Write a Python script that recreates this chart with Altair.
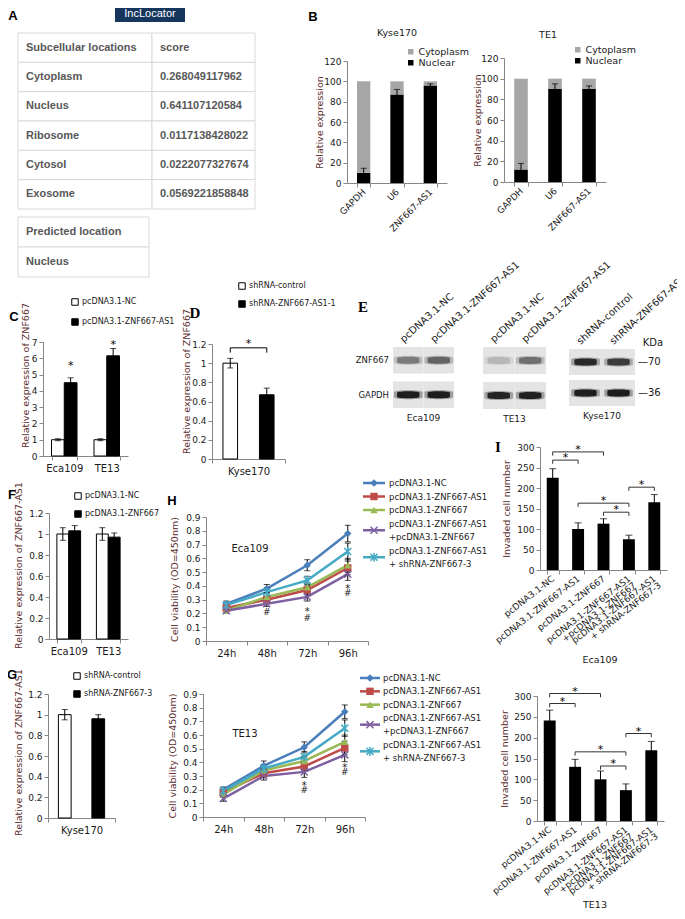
import altair as alt
import pandas as pd

OFF = 8
W, H = 685 - 2 * OFF, 919 - 2 * OFF


def p(v):
    return v - OFF


FONT = "DejaVu Sans"
TBL = "Liberation Sans"
SERIF = "Liberation Serif"
AXC = "#868686"
TCOL = "#5c2e2e"
TXT = "#1a1a1a"
ONE = pd.DataFrame({"k": [0]})

# ======================= data =======================
# A
loc_names = ["Subcellular locations", "Cytoplasm", "Nucleus", "Ribosome", "Cytosol", "Exosome"]
loc_scores = ["score", "0.268049117962", "0.641107120584", "0.0117138428022",
              "0.0222077327674", "0.0569221858848"]
pred_rows = ["Predicted location", "Nucleus"]
# B
b_genes = ["GAPDH", "U6", "ZNF667-AS1"]
b_parts = ["Cytoplasm", "Nuclear"]
kyse_nuc = [10, 87, 96]
kyse_cyto = [90, 13, 4]
kyse_err = [4.5, 5, 1.5]
te1_nuc = [12, 90, 90]
te1_cyto = [88, 10, 10]
te1_err = [6, 5, 3]
# C
c_groups = ["Eca109", "TE13"]
c_series = ["pcDNA3.1-NC", "pcDNA3.1-ZNF667-AS1"]
c_vals = [[1.0, 1.0], [4.5, 6.15]]
c_errs = [[0.06, 0.06], [0.3, 0.45]]
c_stars = [5.7, 7.0]
# D
d_groups = ["Kyse170"]
d_series = ["shRNA-control", "shRNA-ZNF667-AS1-1"]
d_vals = [[1.0], [0.67]]
d_errs = [[0.05], [0.07]]
d_bracket = [1.11, 1.16]
d_star = 1.23
# E
e_rows = ["ZNF667", "GAPDH"]
e_blocks = ["Eca109", "TE13", "Kyse170"]
e_lanes = {
    "Eca109": ["pcDNA3.1-NC", "pcDNA3.1-ZNF667-AS1"],
    "TE13": ["pcDNA3.1-NC", "pcDNA3.1-ZNF667-AS1"],
    "Kyse170": ["shRNA-control", "shRNA-ZNF667-AS1-1"],
}
e_intensity = {
    "Eca109": {"ZNF667": [0.45, 0.55], "GAPDH": [0.92, 0.92]},
    "TE13": {"ZNF667": [0.18, 0.5], "GAPDH": [0.88, 0.9]},
    "Kyse170": {"ZNF667": [0.85, 0.75], "GAPDH": [0.92, 0.92]},
}
e_kda = ["—70", "—36"]
# F
f_groups = ["Eca109", "TE13"]
f_series = ["pcDNA3.1-NC", "pcDNA3.1-ZNF667"]
f_vals = [[1.0, 1.0], [1.03, 0.97]]
f_errs = [[0.06, 0.06], [0.05, 0.04]]
# G
g_groups = ["Kyse170"]
g_series = ["shRNA-control", "shRNA-ZNF667-3"]
g_vals = [[1.0], [0.96]]
g_errs = [[0.05], [0.04]]
# H
times = ["24h", "48h", "72h", "96h"]
h_series = ["pcDNA3.1-NC", "pcDNA3.1-ZNF667-AS1", "pcDNA3.1-ZNF667",
            "pcDNA3.1-ZNF667-AS1\n+pcDNA3.1-ZNF667", "pcDNA3.1-ZNF667-AS1\n+ shRNA-ZNF667-3"]
h_colors = ["#4a7ebb", "#be4b48", "#98b954", "#7d60a0", "#46aac5"]
h_shapes = ["diamond", "square", "triangle-up", "M-1,-1L1,1M-1,1L1,-1",
            "M-1,-1L1,1M-1,1L1,-1M0,-1.3L0,1.3"]
h1_vals = [[0.27, 0.38, 0.55, 0.78],
           [0.24, 0.30, 0.37, 0.53],
           [0.22, 0.32, 0.39, 0.55],
           [0.22, 0.27, 0.32, 0.485],
           [0.26, 0.355, 0.44, 0.65]]
h1_errs = [[0.02, 0.03, 0.04, 0.06],
           [0.02, 0.02, 0.03, 0.05],
           [0.02, 0.03, 0.03, 0.05],
           [0.02, 0.02, 0.03, 0.045],
           [0.02, 0.03, 0.03, 0.06]]
h2_vals = [[0.20, 0.375, 0.51, 0.77],
           [0.18, 0.32, 0.37, 0.505],
           [0.165, 0.34, 0.41, 0.55],
           [0.135, 0.30, 0.33, 0.455],
           [0.19, 0.355, 0.44, 0.65]]
h2_errs = [[0.02, 0.035, 0.04, 0.05],
           [0.02, 0.03, 0.03, 0.05],
           [0.02, 0.03, 0.03, 0.05],
           [0.02, 0.03, 0.04, 0.05],
           [0.02, 0.03, 0.04, 0.06]]
h1_marks = [("48h", "#", 0.21), ("72h", "*", 0.235), ("72h", "#", 0.17),
            ("96h", "*", 0.40), ("96h", "#", 0.345)]
h2_marks = [("72h", "*", 0.25), ("72h", "#", 0.195), ("96h", "*", 0.38), ("96h", "#", 0.33)]
# I
i_cats = ["pcDNA3.1-NC", "pcDNA3.1-ZNF667-AS1", "pcDNA3.1-ZNF667",
          "pcDNA3.1-ZNF667-AS1\n+pcDNA3.1-ZNF667", "pcDNA3.1-ZNF667-AS1\n+ shRNA-ZNF667-3"]
i1_vals = [225, 100, 113, 75, 165]
i1_errs = [22, 15, 12, 10, 19]
i1_brackets = [(0, 2, 288), (0, 1, 268), (1, 3, 163), (2, 3, 141), (3, 4, 202)]
i2_vals = [241, 130, 100, 74, 170]
i2_errs = [25, 18, 20, 15, 21]
i2_brackets = [(0, 2, 306), (0, 1, 282), (1, 3, 166), (2, 3, 132), (3, 4, 210)]


# ======================= helpers =======================
def text_at(txt, x, y, size=9.5, font=FONT, weight="normal", color=TXT, align="center",
            baseline="middle"):
    return alt.Chart(ONE).mark_text(text=txt, font=font, fontSize=size, fontWeight=weight,
                                    color=color, align=align, baseline=baseline).encode(
        x=alt.value(p(x)), y=alt.value(p(y)))


def yax(ax_x, values, title=None, title_c=None, title_y=None, fmt="~g"):
    kw = dict(orient="left", offset=-p(ax_x), values=values, format=fmt, grid=False,
              domainColor=AXC, tickColor=AXC, tickSize=4, labelFont=FONT, labelFontSize=9,
              labelColor=TXT, labelPadding=2, labelOverlap=False)
    if title is None:
        kw["title"] = None
    else:
        kw.update(title=title, titleX=title_c - ax_x, titleAngle=270, titleBaseline="middle",
                  titleFont=FONT, titleFontSize=9.5, titleFontWeight="normal", titleColor=TCOL)
        if title_y is not None:
            kw["titleY"] = p(title_y)
    return alt.Axis(**kw)


def xax(y_bot, angle=0, size=10, multiline=False):
    kw = dict(orient="bottom", offset=p(y_bot) - H, grid=False, domainColor=AXC, tickColor=AXC,
              tickSize=4, tickBand="extent", labelFont=FONT, labelFontSize=size, labelColor=TXT,
              labelPadding=3, labelAngle=angle, labelOverlap=False, title=None)
    if angle:
        kw.update(labelAlign="right", labelBaseline="middle")
    if multiline:
        kw.update(labelExpr="split(datum.label, '\\n')", labelLineHeight=8.5)
    return alt.Axis(**kw)


def leg(x, y, rowpad, stroke=True, size=42, fsize=8):
    kw = dict(orient="none", legendX=p(x), legendY=p(y), title=None, symbolType="square",
              symbolSize=size, labelFont=FONT, labelFontSize=fsize, labelColor=TXT,
              labelOffset=3, rowPadding=rowpad, padding=0, labelLimit=300)
    if stroke:
        kw.update(symbolStrokeColor="black", symbolStrokeWidth=1)
    else:
        kw.update(symbolStrokeWidth=0)
    return alt.Legend(**kw)


def errbars(df, x_enc, ys, cap, xoff=None, width=1):
    # secondary layers carry no "axis" key so the main layer's axis stays enabled
    base = alt.Chart(df).transform_calculate(lo="datum.v - datum.e", hi="datum.v + datum.e")
    enc = {"x": x_enc}
    if xoff is not None:
        enc["xOffset"] = xoff
    rule = base.mark_rule(color="black", strokeWidth=width).encode(
        y=alt.Y("lo:Q", scale=ys), y2="hi:Q", **enc)
    lo = base.mark_tick(color="black", thickness=width, size=cap).encode(
        y=alt.Y("lo:Q", scale=ys), **enc)
    hi = base.mark_tick(color="black", thickness=width, size=cap).encode(
        y=alt.Y("hi:Q", scale=ys), **enc)
    return [rule, lo, hi]


# ======================= panels =======================
def table(names, col_edges, row_top, row_bot, extra_col=None):
    n = len(names)
    cols = [0] * n
    texts = list(names)
    rows = list(range(n))
    if extra_col is not None:
        cols += [1] * n
        texts += extra_col
        rows += list(range(n))
    t = pd.DataFrame({"r": rows, "c": cols, "t": texts})
    ncol = len(col_edges) - 1
    xs = alt.Scale(domain=list(range(ncol + 1)), range=[p(v) for v in col_edges],
                   zero=False, nice=False)
    ys = alt.Scale(domain=[0, n], range=[p(row_top), p(row_bot)], zero=False, nice=False)
    base = alt.Chart(t).transform_calculate(c2="datum.c + 1", r2="datum.r + 1",
                                            rm="datum.r + 0.5")
    cells = base.mark_rect(fill="white", stroke="#d9d9d9", strokeWidth=1).encode(
        x=alt.X("c:Q", scale=xs, axis=None), x2="c2:Q",
        y=alt.Y("r:Q", scale=ys, axis=None), y2="r2:Q")
    txt = base.mark_text(align="left", dx=8, font=TBL, fontSize=11, fontWeight="bold",
                         color="#585858").encode(
        x=alt.X("c:Q", scale=xs, axis=None), y=alt.Y("rm:Q", scale=ys, axis=None), text="t:N")
    return alt.layer(cells, txt)


def panel_a():
    out = [table(loc_names, [18, 152, 255], 33, 209, loc_scores),
           table(pred_rows, [18, 149], 217, 277)]
    box = alt.Chart(ONE).mark_rect(color="#17365d").encode(
        x=alt.value(p(115)), x2=alt.value(p(185)), y=alt.value(p(4)), y2=alt.value(p(22)))
    out.append(box)
    out.append(text_at("IncLocator", 150, 13.5, size=11, font=TBL, color="white"))
    return out


def panel_b(title, nuc, cyto, err, ax_x, x_end, y_bot, y_top, title_c, head_xy, leg_xy):
    n = len(b_genes)
    df = pd.DataFrame({"gene": b_genes * 2, "part": ["Nuclear"] * n + ["Cytoplasm"] * n,
                       "v": nuc + cyto, "o": [0] * n + [1] * n})
    xs = alt.Scale(type="band", domain=b_genes, range=[p(ax_x), p(x_end)],
                   paddingInner=0.6, paddingOuter=0.3)
    ys = alt.Scale(domain=[0, 120], range=[p(y_bot), p(y_top)], nice=False, zero=True)
    bars = alt.Chart(df).mark_bar().encode(
        x=alt.X("gene:N", scale=xs, axis=xax(y_bot, angle=315, size=9)),
        y=alt.Y("v:Q", stack="zero", scale=ys,
                axis=yax(ax_x, list(range(0, 121, 20)), "Relative expression", title_c,
                         fmt="d")),
        color=alt.Color("part:N", scale=alt.Scale(domain=b_parts, range=["#a6a6a6", "#000000"]),
                        legend=leg(leg_xy[0], leg_xy[1], 0, stroke=False, size=30, fsize=9.5)),
        order=alt.Order("o:Q"),
    )
    e = pd.DataFrame({"gene": b_genes, "v": nuc, "e": err})
    errs = errbars(e, alt.X("gene:N", scale=xs), ys, cap=6)
    return [alt.layer(bars, *errs), text_at(title, head_xy[0], head_xy[1], size=9.5)]


def grouped(groups, series, vals, errs, ax_x, x_end, y_bot, y_top, ymax, yvals, fmt, title,
            title_c, title_y, leg_xy, rowpad, pin, pout, opin, opout):
    rows = []
    for si, s in enumerate(series):
        for gi, g in enumerate(groups):
            rows.append({"g": g, "s": s, "v": vals[si][gi], "e": errs[si][gi]})
    df = pd.DataFrame(rows)
    xs = alt.Scale(type="band", domain=groups, range=[p(ax_x), p(x_end)],
                   paddingInner=pin, paddingOuter=pout)
    os_ = alt.Scale(domain=series, paddingInner=opin, paddingOuter=opout)
    ys = alt.Scale(domain=[0, ymax], range=[p(y_bot), p(y_top)], nice=False, zero=True)
    X = alt.X("g:N", scale=xs)
    XO = alt.XOffset("s:N", scale=os_)
    bars = alt.Chart(df).mark_bar(stroke="black", strokeWidth=1).encode(
        x=alt.X("g:N", scale=xs, axis=xax(y_bot, size=10)),
        xOffset=XO,
        y=alt.Y("v:Q", scale=ys, axis=yax(ax_x, yvals, title, title_c, title_y, fmt=fmt)),
        color=alt.Color("s:N", scale=alt.Scale(domain=series, range=["white", "black"]),
                        legend=leg(leg_xy[0], leg_xy[1], rowpad)),
    )
    return [bars] + errbars(df, X, ys, cap=6, xoff=XO), X, XO, ys


def panel_c():
    layers, X, XO, ys = grouped(c_groups, c_series, c_vals, c_errs, 43, 128, 456, 342, 7,
                                list(range(0, 8)), "d", "Relative expression of ZNF667", 25.5,
                                375, (71, 298), 8, 0.4, 0.2, 0, 0)
    st = pd.DataFrame({"g": c_groups, "s": [c_series[1]] * 2, "y": c_stars})
    stars = alt.Chart(st).mark_text(text="*", fontSize=11, font=FONT, dy=3).encode(
        x=X, xOffset=XO, y=alt.Y("y:Q", scale=ys))
    return [alt.layer(*layers, stars)]


yv12 = [0, 0.2, 0.4, 0.6, 0.8, 1, 1.2]


def panel_d():
    layers, X, XO, ys = grouped(d_groups, d_series, d_vals, d_errs, 212, 285, 459, 344, 1.2,
                                yv12, "~g", "Relative expression of ZNF667", 186.5, 381,
                                (238, 282), 6, 0, 0, 0.6, 0.3)
    br = pd.DataFrame({"g": d_groups * 4,
                       "s": [d_series[0], d_series[0], d_series[1], d_series[1]],
                       "y": [d_bracket[0], d_bracket[1], d_bracket[1], d_bracket[0]],
                       "i": [0, 1, 2, 3]})
    line = alt.Chart(br).mark_line(color="black", strokeWidth=1).encode(
        x=X, xOffset=XO, y=alt.Y("y:Q", scale=ys), order="i:Q")
    st = pd.DataFrame({"g": d_groups, "y": [d_star]})
    star = alt.Chart(st).mark_text(text="*", fontSize=11, font=FONT, dy=3).encode(
        x=X, y=alt.Y("y:Q", scale=ys))
    return [alt.layer(*layers, line, star)]


def panel_f():
    layers, X, XO, ys = grouped(f_groups, f_series, f_vals, f_errs, 49, 128, 639, 513, 1.2,
                                yv12, "~g", "Relative expression of ZNF667-AS1", 18.5, 565,
                                (74, 492), 6, 0.4, 0.2, 0, 0)
    return [alt.layer(*layers)]


def panel_g():
    layers, X, XO, ys = grouped(g_groups, g_series, g_vals, g_errs, 48, 115, 818, 694, 1.2,
                                yv12, "~g", "Relative expression of ZNF667-AS1", 18.5, 752,
                                (73, 672), 6, 0, 0, 0.62, 0.31)
    return [alt.layer(*layers)]


BAND = "M-1,-0.18C-1,-0.36,1,-0.36,1,-0.18L1,0.18C1,0.36,-1,0.36,-1,0.18Z"


def blot(block, x0, x1, y0, y1, pin):
    lanes = e_lanes[block]
    xs = alt.Scale(type="band", domain=lanes, range=[p(x0), p(x1)], paddingInner=0,
                   paddingOuter=0)
    ys = alt.Scale(type="band", domain=e_rows, range=[p(y0), p(y1)], paddingInner=pin,
                   paddingOuter=0)
    rows = []
    for r in e_rows:
        for li, ln in enumerate(lanes):
            rows.append({"lane": ln, "row": r, "int": e_intensity[block][r][li]})
    df = pd.DataFrame(rows)
    X = alt.X("lane:N", scale=xs, axis=None)
    Y = alt.Y("row:N", scale=ys, axis=None)
    gray = alt.Scale(domain=[0, 1], range=["#e2e2e2", "#0d0d0d"])
    box = alt.Chart(df).mark_rect(color="#e4e4e4").encode(x=X, y=Y)
    halo = alt.Chart(df).mark_point(shape=BAND, filled=True, size=820, opacity=0.35).encode(
        x=X, y=Y, color=alt.Color("int:Q", scale=gray, legend=None))
    core = alt.Chart(df).mark_point(shape=BAND, filled=True, size=500, opacity=1).encode(
        x=X, y=Y, color=alt.Color("int:Q", scale=gray, legend=None))
    ld = pd.DataFrame({"lane": lanes})
    lane_lab = alt.Chart(ld).mark_text(angle=318, align="left", baseline="alphabetic",
                                       font=FONT, fontSize=10, color=TXT).encode(
        x=alt.X("lane:N", scale=xs, axis=None, bandPosition=0.35), y=alt.value(p(y0 - 4)),
        text="lane:N")
    bd = pd.DataFrame({"lane": [lanes[0]], "row": [e_rows[-1]], "b": [block]})
    blab = alt.Chart(bd).mark_text(font=FONT, fontSize=9, color=TXT, dy=10).encode(
        x=alt.X("lane:N", scale=xs, axis=None, bandPosition=1),
        y=alt.Y("row:N", scale=ys, axis=None, bandPosition=1), text="b:N")
    layers = [box, halo, core, lane_lab, blab]
    if block == e_blocks[0]:
        rd = pd.DataFrame({"lane": [lanes[0]] * 2, "row": e_rows})
        layers.append(alt.Chart(rd).mark_text(align="right", dx=-4, font=FONT, fontSize=8.5,
                                              color=TXT).encode(
            x=alt.X("lane:N", scale=xs, axis=None, bandPosition=0), y=Y, text="row:N"))
    if block == e_blocks[-1]:
        kd = pd.DataFrame({"lane": [lanes[1]] * 2, "row": e_rows, "t": e_kda})
        layers.append(alt.Chart(kd).mark_text(align="left", dx=3, font=FONT, fontSize=10,
                                              color=TXT).encode(
            x=alt.X("lane:N", scale=xs, axis=None, bandPosition=1), y=Y, text="t:N"))
    return [alt.layer(*layers)]


def panel_h(vals, errs, marks, ax_x, x_end, y_bot, y_top, title_c, lab, lab_xy):
    rows = []
    for si, s in enumerate(h_series):
        for ti, t in enumerate(times):
            rows.append({"t": t, "s": s, "v": vals[si][ti], "e": errs[si][ti]})
    df = pd.DataFrame(rows)
    xs = alt.Scale(type="band", domain=times, range=[p(ax_x), p(x_end)], paddingInner=0,
                   paddingOuter=0)
    ys = alt.Scale(domain=[0, 0.9], range=[p(y_bot), p(y_top)], nice=False, zero=True)
    cs = alt.Scale(domain=h_series, range=h_colors)
    ss = alt.Scale(domain=h_series, range=h_shapes)
    X = alt.X("t:N", scale=xs)
    Y = alt.Y("v:Q", scale=ys)
    lines = alt.Chart(df).mark_line(strokeWidth=2.5).encode(
        x=alt.X("t:N", scale=xs, axis=xax(y_bot, size=10)),
        y=alt.Y("v:Q", scale=ys, axis=yax(ax_x, [round(0.1 * k, 1) for k in range(10)],
                                          "Cell viability (OD=450nm)", title_c)),
        color=alt.Color("s:N", scale=cs, legend=None))
    eb = errbars(df, X, ys, cap=6)
    filled = alt.Chart(df).transform_filter(
        alt.FieldOneOfPredicate(field="s", oneOf=h_series[:3])).mark_point(
        filled=True, size=55, opacity=1).encode(
        x=X, y=Y, color=alt.Color("s:N", scale=cs, legend=None),
        shape=alt.Shape("s:N", scale=ss, legend=None))
    opened = alt.Chart(df).transform_filter(
        alt.FieldOneOfPredicate(field="s", oneOf=h_series[3:])).mark_point(
        filled=False, size=50, strokeWidth=1.5, opacity=1).encode(
        x=X, y=Y, color=alt.Color("s:N", scale=cs, legend=None),
        shape=alt.Shape("s:N", scale=ss, legend=None))
    md = pd.DataFrame(marks, columns=["t", "m", "y"])
    star = alt.Chart(md).transform_filter("datum.m == '*'").mark_text(
        fontSize=10, font=FONT, dy=3, color=TXT).encode(
        x=X, y=alt.Y("y:Q", scale=ys), text="m:N")
    hsh = alt.Chart(md).transform_filter("datum.m == '#'").mark_text(
        fontSize=9, font=FONT, color=TXT).encode(
        x=X, y=alt.Y("y:Q", scale=ys), text="m:N")
    return [alt.layer(lines, *eb, filled, opened, star, hsh),
            text_at(lab, lab_xy[0], lab_xy[1], size=10)]


def h_legend(x0, x1, y_first, y_last, tdx):
    ent, txt = [], []
    line = 0
    for s in h_series:
        parts = s.split("\n")
        ent.append({"s": s, "mid": line + (len(parts) - 1) / 2, "x0": 0, "x1": 1, "xm": 0.5})
        for k, part in enumerate(parts):
            txt.append({"s": s, "line": line + k, "label": part, "x1": 1})
        line += len(parts)
    ed = pd.DataFrame(ent)
    td = pd.DataFrame(txt)
    xs = alt.Scale(domain=[0, 1], range=[p(x0), p(x1)], zero=False, nice=False)
    ys = alt.Scale(domain=[0, line - 1], range=[p(y_first), p(y_last)], zero=False, nice=False)
    cs = alt.Scale(domain=h_series, range=h_colors)
    ss = alt.Scale(domain=h_series, range=h_shapes)
    rule = alt.Chart(ed).mark_rule(strokeWidth=2.5).encode(
        x=alt.X("x0:Q", scale=xs, axis=None), x2="x1:Q",
        y=alt.Y("mid:Q", scale=ys, axis=None), color=alt.Color("s:N", scale=cs, legend=None))
    filled = alt.Chart(ed).transform_filter(
        alt.FieldOneOfPredicate(field="s", oneOf=h_series[:3])).mark_point(
        filled=True, size=55, opacity=1).encode(
        x=alt.X("xm:Q", scale=xs, axis=None), y=alt.Y("mid:Q", scale=ys, axis=None),
        color=alt.Color("s:N", scale=cs, legend=None),
        shape=alt.Shape("s:N", scale=ss, legend=None))
    opened = alt.Chart(ed).transform_filter(
        alt.FieldOneOfPredicate(field="s", oneOf=h_series[3:])).mark_point(
        filled=False, size=50, strokeWidth=1.5, opacity=1).encode(
        x=alt.X("xm:Q", scale=xs, axis=None), y=alt.Y("mid:Q", scale=ys, axis=None),
        color=alt.Color("s:N", scale=cs, legend=None),
        shape=alt.Shape("s:N", scale=ss, legend=None))
    labels = alt.Chart(td).mark_text(align="left", dx=tdx, font=FONT, fontSize=8.5,
                                     color=TXT).encode(
        x=alt.X("x1:Q", scale=xs, axis=None), y=alt.Y("line:Q", scale=ys, axis=None),
        text="label:N")
    return [alt.layer(rule, filled, opened, labels)]


def panel_i(vals, errs, brackets, ax_x, x_end, y_bot, y_top, title_c, xtitle, xtitle_xy):
    df = pd.DataFrame({"c": i_cats, "v": vals, "e": errs})
    pin, pout = 0.53, 0.265
    xs = alt.Scale(type="band", domain=i_cats, range=[p(ax_x), p(x_end)],
                   paddingInner=pin, paddingOuter=pout)
    step = (x_end - ax_x) / (len(i_cats) - pin + 2 * pout)
    ys = alt.Scale(domain=[0, 300], range=[p(y_bot), p(y_top)], nice=False, zero=True)
    X = alt.X("c:N", scale=xs)
    bars = alt.Chart(df).mark_bar(color="black").encode(
        x=alt.X("c:N", scale=xs, axis=xax(y_bot, angle=322, size=9, multiline=True)),
        y=alt.Y("v:Q", scale=ys, axis=yax(ax_x, list(range(0, 301, 50)),
                                          "Invaded cell number", title_c, fmt="d")))
    eb = errbars(df, X, ys, cap=7)
    rows = []
    for bi, (a, b, lvl) in enumerate(brackets):
        for k, (ci, yy) in enumerate([(a, lvl - 9), (a, lvl), (b, lvl), (b, lvl - 9)]):
            rows.append({"id": bi, "i": k, "c": i_cats[ci], "y": yy})
    bd = pd.DataFrame(rows)
    br = alt.Chart(bd).mark_line(color="#333333", strokeWidth=1).encode(
        x=X, y=alt.Y("y:Q", scale=ys), detail="id:N", order="i:Q")
    stars = []
    for (a, b, lvl) in brackets:
        sd = pd.DataFrame({"c": [i_cats[a]], "y": [lvl + 12]})
        stars.append(alt.Chart(sd).mark_text(text="*", fontSize=11, font=FONT, dy=3,
                                             dx=(b - a) / 2 * step).encode(
            x=X, y=alt.Y("y:Q", scale=ys)))
    return [alt.layer(bars, *eb, br, *stars),
            text_at(xtitle, xtitle_xy[0], xtitle_xy[1], size=9.5)]


# ======================= assemble =======================
layers = []
layers += panel_a()
layers += panel_b("Kyse170", kyse_nuc, kyse_cyto, kyse_err, 347, 447, 183, 61, 319,
                  (397, 33), (406, 47))
layers += panel_b("TE1", te1_nuc, te1_cyto, te1_err, 504, 606, 182, 58, 477,
                  (548, 35), (573, 45))
layers += panel_c()
layers += panel_d()
layers += blot("Eca109", 393, 454, 347, 408, 0.23)
layers += blot("TE13", 483, 546, 347, 409, 0.23)
layers += blot("Kyse170", 569, 635, 349, 406, 0.16)
layers.append(text_at("KDa", 653, 343, size=10))
layers += panel_f()
layers += panel_g()
layers += panel_h(h1_vals, h1_errs, h1_marks, 206, 368, 641, 517, 174, "Eca109", (250, 549))
layers += h_legend(363, 385, 483, 564, 4)
layers += panel_h(h2_vals, h2_errs, h2_marks, 203, 365, 817, 694, 172, "TE13", (245, 734))
layers += h_legend(360, 380, 678, 758, 3)
layers += panel_i(i1_vals, i1_errs, i1_brackets, 540, 667, 570, 447, 506.5, "Eca109",
                  (600, 660))
layers += panel_i(i2_vals, i2_errs, i2_brackets, 537, 664, 821, 696, 504, "TE13",
                  (595, 905))

for letter, x, y, font, size in [("A", 13, 16, TBL, 13), ("B", 313, 17, TBL, 13),
                                 ("C", 14, 317, TBL, 13), ("D", 195, 313, SERIF, 15),
                                 ("E", 363, 307, SERIF, 15), ("F", 12, 495, TBL, 13),
                                 ("G", 12, 675, TBL, 13), ("H", 172, 501, TBL, 13),
                                 ("I", 498, 447, SERIF, 15)]:
    layers.append(text_at(letter, x, y, size=size, font=font, weight="bold", color="black"))

chart = alt.layer(*layers).resolve_scale(
    x="independent", y="independent", color="independent", shape="independent",
    xOffset="independent"
).properties(
    width=W, height=H, padding=0, autosize=alt.AutoSizeParams(type="none")
).configure_view(stroke=None)

chart.save("out.html", embed_options={"renderer": "svg", "actions": False})
